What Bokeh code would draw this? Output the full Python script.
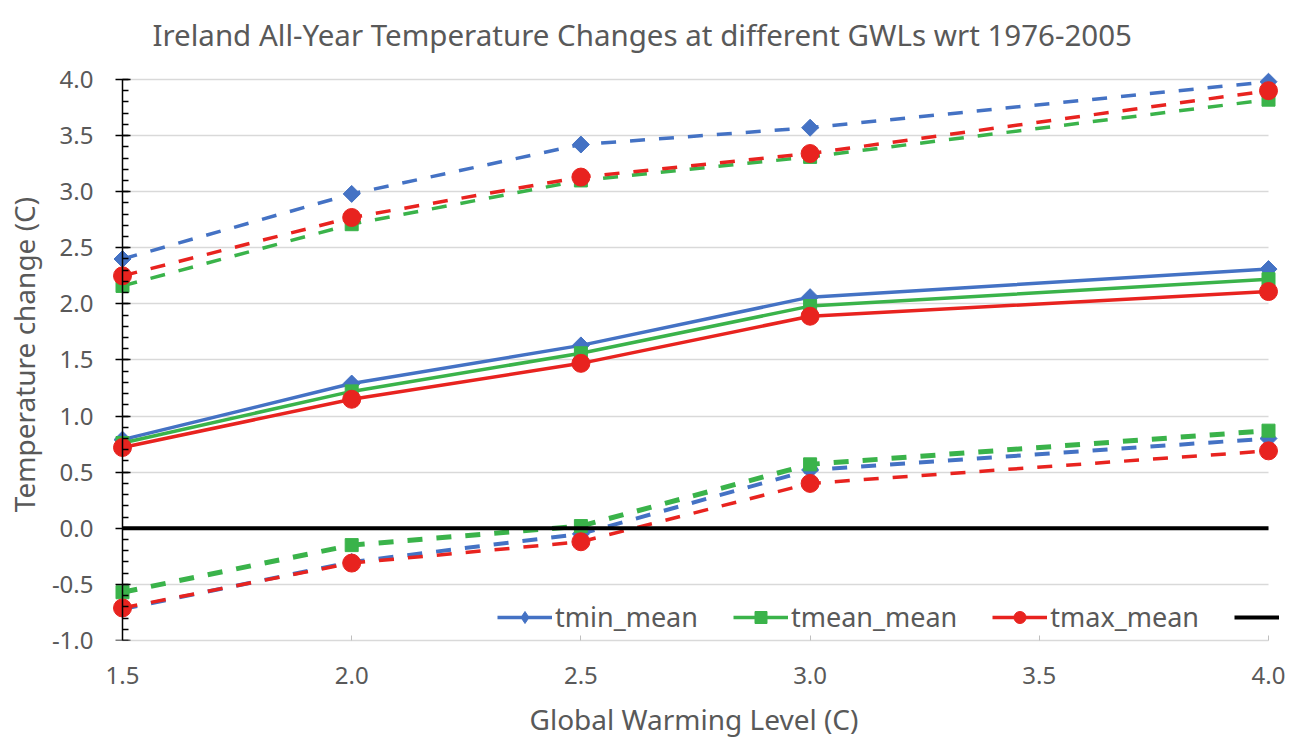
import math
from bokeh.plotting import figure
from bokeh.models import (SingleIntervalTicker, NumeralTickFormatter, Legend, LegendItem,
                          LinearAxis, CustomLabelingPolicy)
from bokeh.embed import file_html
from bokeh.resources import INLINE

gwl = [1.5, 2.0, 2.5, 3.0, 4.0]

tmin_hi = [2.40, 2.98, 3.42, 3.57, 3.98]
tmean_hi = [2.16, 2.71, 3.10, 3.31, 3.82]
tmax_hi = [2.25, 2.77, 3.13, 3.34, 3.90]

tmin_mean = [0.79, 1.29, 1.63, 2.06, 2.31]
tmean_mean = [0.76, 1.22, 1.56, 1.98, 2.22]
tmax_mean = [0.72, 1.15, 1.47, 1.89, 2.11]

tmin_lo = [-0.72, -0.30, -0.05, 0.52, 0.80]
tmean_lo = [-0.57, -0.15, 0.02, 0.57, 0.87]
tmax_lo = [-0.71, -0.31, -0.12, 0.40, 0.69]

zero_line = [0, 0, 0, 0, 0]

x_lo, x_hi = 1.5, 4.0
y_lo, y_hi = -1.0, 4.0

title_text = "Ireland All-Year Temperature Changes at different GWLs wrt 1976-2005"
x_label = "Global Warming Level (C)"
y_label = "Temperature change (C)"
series_names = ["tmin_mean", "tmean_mean", "tmax_mean", ""]

BLUE = "#4472C4"
GREEN = "#3AB34A"
RED = "#E8231F"
GRAY_TXT = "#595959"
FONT = "Noto Sans"

# data area in page pixels, and padding so edge markers are not clipped
AX_L, AX_R, AX_T, AX_B = 122, 1268, 79, 642
PAD_L_PX = 14
PAD_R_PX = 11
PAD_TOP_PX = 11
scale_x = (x_hi - x_lo) / (AX_R - AX_L)
dy = PAD_TOP_PX * (y_hi - y_lo) / (AX_B - AX_T)
FRAME_L = AX_L - PAD_L_PX

p = figure(width=1290, height=740,
           x_range=(x_lo - PAD_L_PX * scale_x, x_hi + PAD_R_PX * scale_x),
           y_range=(y_lo, y_hi + dy),
           output_backend="svg", toolbar_location=None,
           min_border_left=FRAME_L, min_border_right=1290 - AX_R - PAD_R_PX,
           min_border_top=AX_T - PAD_TOP_PX, min_border_bottom=740 - AX_B)
p.outline_line_color = None
p.title.text = title_text
p.title.align = "left"
p.title.offset = 152 - FRAME_L
p.title.vertical_align = "top"
p.title.text_font = FONT
p.title.text_font_size = "29.5px"
p.title.text_font_style = "normal"
p.title.text_color = GRAY_TXT
p.title.standoff = 23

p.xgrid.grid_line_color = None
p.ygrid.grid_line_color = "#d9d9d9"
p.ygrid.grid_line_width = 1.5
p.ygrid.cross_bounds = (x_lo, x_hi)

y_ticker = SingleIntervalTicker(interval=0.5, num_minor_ticks=5)
p.xaxis.ticker = SingleIntervalTicker(interval=0.5, num_minor_ticks=0)
p.yaxis.ticker = y_ticker
p.xaxis.formatter = NumeralTickFormatter(format="0.0")
p.yaxis.formatter = NumeralTickFormatter(format="0.0")

for ax in (p.xaxis, p.yaxis):
    ax.major_label_text_font = FONT
    ax.major_label_text_font_size = "24px"
    ax.major_label_text_color = GRAY_TXT
    ax.axis_label_text_font = FONT
    ax.axis_label_text_font_size = "28px"
    ax.axis_label_text_font_style = "normal"
    ax.axis_label_text_color = GRAY_TXT

p.xaxis.axis_label = x_label
p.xaxis.bounds = (x_lo, x_hi)
p.xaxis.axis_line_color = "#d9d9d9"
p.xaxis.axis_line_width = 1.5
p.xaxis.major_tick_line_color = "#bfbfbf"
p.xaxis.major_tick_in = 5
p.xaxis.major_tick_out = 0
p.xaxis.major_label_standoff = 26
p.xaxis.axis_label_standoff = 13

# label-only y axis at the frame edge
ylab = p.yaxis[0]
ylab.axis_label = y_label
ylab.bounds = (y_lo, y_hi)
ylab.axis_line_color = None
ylab.major_tick_line_color = None
ylab.minor_tick_line_color = None
ylab.major_tick_in = 0
ylab.major_tick_out = 0
ylab.minor_tick_in = 0
ylab.minor_tick_out = 0
ylab.major_label_standoff = 15
ylab.axis_label_standoff = 6

# line + ticks y axis drawn at x = 1.5 (its labels are suppressed);
# it lives in the slim right panel so it does not widen the left border
hide_all = CustomLabelingPolicy(code="""
    for (const i of indices) { indices.unset(i) }
    return indices
""")
ytick = LinearAxis(ticker=y_ticker, fixed_location=x_lo, bounds=(y_lo, y_hi),
                   formatter=NumeralTickFormatter(format="0.0"),
                   major_label_policy=hide_all)
ytick.major_label_text_font_size = "1px"
ytick.major_label_standoff = 0
ytick.axis_line_color = "black"
ytick.axis_line_width = 1.5
ytick.major_tick_line_color = "black"
ytick.major_tick_line_width = 1.5
ytick.major_tick_in = 7
ytick.major_tick_out = 8
ytick.minor_tick_line_color = "black"
ytick.minor_tick_line_width = 1.5
ytick.minor_tick_in = 0
ytick.minor_tick_out = 6
p.add_layout(ytick, "right")

DASH = "15 14"
LW = 3.5

groups = [
    (tmin_hi, tmean_hi, tmax_hi, DASH, [LW, LW, LW]),
    (tmin_mean, tmean_mean, tmax_mean, "solid", [LW, LW, LW]),
    (tmin_lo, tmean_lo, tmax_lo, DASH, [4.0, 5.0, LW]),
]

legend_refs = {0: [], 1: [], 2: []}
for gi, (a, b, c, dash, lws) in enumerate(groups):
    for si, (vals, col) in enumerate([(a, BLUE), (b, GREEN), (c, RED)]):
        r1 = p.line(gwl, vals, line_color=col, line_width=lws[si], line_dash=dash)
        if si == 0:
            r_leg = p.scatter(gwl, vals, marker="diamond", size=15, fill_color=col, line_color=col)
            p.scatter(gwl, vals, marker="square", size=12, angle=math.pi / 4,
                      fill_color=col, line_color=col)
        elif si == 1:
            r_leg = p.scatter(gwl, vals, marker="square", size=13, fill_color=col, line_color=col)
        else:
            r_leg = p.scatter(gwl, vals, marker="circle", size=18, fill_color=col, line_color=col)
        if gi == 1:
            legend_refs[si] = [r1, r_leg]

rz = p.line(gwl, zero_line, line_color="black", line_width=4)

legend = Legend(items=[
    LegendItem(label=series_names[0], renderers=legend_refs[0]),
    LegendItem(label=series_names[1], renderers=legend_refs[1]),
    LegendItem(label=series_names[2], renderers=legend_refs[2]),
    LegendItem(label=series_names[3], renderers=[rz]),
], orientation="horizontal", location=(500 - 3 - FRAME_L, 5))
legend.label_text_font = FONT
legend.label_text_font_size = "27px"
legend.label_text_color = GRAY_TXT
legend.glyph_width = 55
legend.glyph_height = 30
legend.label_standoff = 3
legend.spacing = 35
legend.padding = 3
legend.margin = 0
legend.border_line_color = None
legend.background_fill_color = "white"
legend.background_fill_alpha = 1.0
p.add_layout(legend, "center")

open("out.html", "w").write(file_html(p, INLINE))
